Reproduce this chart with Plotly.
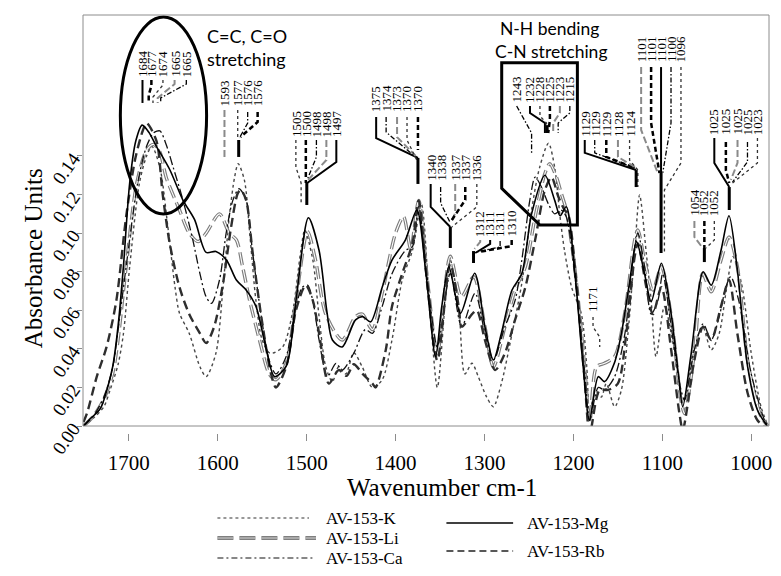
import plotly.graph_objects as go

# ---------------- data ----------------
series_names = ["AV-153-K", "AV-153-Li", "AV-153-Ca", "AV-153-Mg", "AV-153-Rb"]

k_wn = [1751, 1740, 1728, 1721, 1712, 1706, 1699, 1688, 1680, 1674, 1665, 1656, 1648, 1643, 1632, 1620, 1613, 1602,
        1594, 1587, 1581, 1577, 1570, 1564, 1557, 1550, 1541, 1527, 1516, 1506.5, 1502, 1493, 1486, 1478.5, 1471,
        1464, 1456, 1447, 1437.5, 1426, 1415, 1404, 1392.5, 1381, 1371, 1362, 1353, 1344, 1338.5, 1329, 1322, 1314,
        1307, 1297.5, 1290, 1281, 1269, 1258, 1247, 1238, 1228, 1221, 1215, 1210, 1202, 1191, 1185, 1181.6, 1176,
        1168.6, 1163, 1153.6, 1146, 1138.6, 1131, 1125.5, 1118, 1112.5, 1107, 1097.6, 1086, 1077, 1064, 1054.6,
        1045, 1036, 1028, 1020.6, 1011, 1000, 989, 981]
k_ab = [0.000, 0.004, 0.010, 0.0187, 0.032, 0.048, 0.0826, 0.126, 0.140, 0.145, 0.134, 0.103, 0.072, 0.0585, 0.048,
        0.0307, 0.0256, 0.0378, 0.072, 0.1085, 0.129, 0.136, 0.1275, 0.100, 0.065, 0.0446, 0.0377, 0.041, 0.0585,
        0.091, 0.1016, 0.086, 0.0567, 0.0307, 0.023, 0.0307, 0.027, 0.038, 0.0307, 0.020, 0.024, 0.0446, 0.0757,
        0.091, 0.115, 0.065, 0.020, 0.065, 0.086, 0.062, 0.027, 0.0325, 0.0256, 0.015, 0.010, 0.022, 0.048, 0.074,
        0.112, 0.134, 0.1466, 0.134, 0.1085, 0.091, 0.072, 0.058, 0.031, 0.003, 0.0187, 0.015, 0.022, 0.010, 0.0187,
        0.048, 0.091, 0.1198, 0.0896, 0.065, 0.036, 0.062, 0.0377, 0.012, 0.041, 0.0515, 0.0394, 0.048, 0.0705,
        0.0878, 0.074, 0.0377, 0.010, 0.000]

li_wn = [1751, 1740, 1728, 1718, 1712, 1703, 1691, 1680, 1672, 1665, 1658, 1643, 1632, 1622, 1613, 1598, 1587, 1579,
         1572, 1564, 1553, 1542, 1534.5, 1523, 1512, 1499, 1490, 1478.5, 1460, 1445, 1437.5, 1426, 1415, 1400, 1391,
         1383, 1374, 1364, 1353, 1338.5, 1326, 1312, 1299.5, 1290, 1277, 1265.6, 1254, 1243, 1232, 1226.6, 1219,
         1213.6, 1208, 1198.6, 1187.3, 1181.6, 1174, 1165, 1153.6, 1142.4, 1131, 1127.5, 1120, 1110.6, 1101, 1090,
         1079, 1075, 1064, 1054.6, 1045, 1034, 1025, 1015.6, 1004, 989, 981]
li_ab = [0.000, 0.005, 0.014, 0.0275, 0.045, 0.0826, 0.126, 0.143, 0.146, 0.142, 0.129, 0.112, 0.100, 0.0956, 0.100,
         0.110, 0.100, 0.0965, 0.0826, 0.065, 0.0446, 0.027, 0.024, 0.0325, 0.065, 0.1008, 0.086, 0.058, 0.0446,
         0.0567, 0.058, 0.050, 0.069, 0.100, 0.1085, 0.092, 0.117, 0.075, 0.0377, 0.088, 0.067, 0.0774, 0.0515,
         0.0307, 0.0515, 0.0705, 0.0826, 0.1085, 0.131, 0.136, 0.129, 0.1206, 0.112, 0.0826, 0.0307, 0.002, 0.0307,
         0.0325, 0.036, 0.058, 0.0965, 0.1016, 0.086, 0.0705, 0.0826, 0.0567, 0.0135, 0.0065, 0.0377, 0.079, 0.0696,
         0.086, 0.098, 0.0826, 0.034, 0.005, 0.000]

ca_wn = [1751, 1740, 1728, 1718, 1712, 1703, 1690, 1680, 1672, 1665, 1658, 1650, 1639, 1628, 1620, 1613, 1607, 1598,
         1590.5, 1583, 1576, 1568, 1561, 1551, 1542, 1534.5, 1523, 1512, 1504.7, 1499, 1493, 1486, 1476.6, 1467,
         1460, 1447, 1434, 1426, 1415, 1404, 1389, 1381, 1374, 1364, 1353, 1338.5, 1325.6, 1310.6, 1299.5, 1290,
         1277, 1265.6, 1258, 1249, 1243, 1236, 1228, 1221, 1214, 1208, 1198.6, 1187, 1181.6, 1172, 1165, 1153.6,
         1142, 1133, 1127.5, 1120, 1112.5, 1105, 1099.5, 1090, 1079, 1075, 1064, 1054, 1045, 1036, 1028.5, 1023,
         1014, 1000, 985, 981]
ca_ab = [0.000, 0.005, 0.015, 0.0307, 0.050, 0.0826, 0.126, 0.145, 0.152, 0.153, 0.146, 0.134, 0.117, 0.0965, 0.079,
         0.067, 0.0636, 0.0757, 0.100, 0.117, 0.123, 0.117, 0.091, 0.0567, 0.034, 0.027, 0.036, 0.062, 0.072, 0.073,
         0.065, 0.0446, 0.0256, 0.0325, 0.029, 0.0377, 0.050, 0.048, 0.062, 0.079, 0.091, 0.093, 0.1137, 0.075,
         0.041, 0.079, 0.0515, 0.0688, 0.048, 0.0342, 0.0515, 0.065, 0.086, 0.117, 0.129, 0.124, 0.115, 0.110, 0.112,
         0.1085, 0.079, 0.027, 0.003, 0.020, 0.0187, 0.0256, 0.048, 0.086, 0.100, 0.0826, 0.058, 0.065, 0.079, 0.0515,
         0.0187, 0.0135, 0.0394, 0.053, 0.0446, 0.0567, 0.072, 0.0774, 0.065, 0.027, 0.003, 0.000]

mg_wn = [1751, 1745, 1732, 1725, 1718, 1712, 1706, 1699, 1692, 1685, 1677, 1669, 1654, 1639, 1626, 1613, 1602, 1590,
         1579, 1568, 1557, 1546, 1536, 1523, 1512, 1498, 1486, 1477, 1471, 1460, 1445, 1437, 1428, 1415, 1404, 1389,
         1376, 1366, 1355, 1348, 1340, 1327, 1311, 1299.5, 1290, 1281, 1269, 1258, 1247, 1232, 1221, 1215, 1208, 1199,
         1189, 1182, 1172, 1165, 1154, 1146, 1137, 1129, 1120, 1112.5, 1101, 1090, 1082, 1077, 1067.5, 1054, 1045,
         1034, 1025, 1016, 1004, 993, 982]
mg_ab = [0.000, 0.003, 0.009, 0.018, 0.031, 0.052, 0.083, 0.126, 0.148, 0.156, 0.152, 0.145, 0.133, 0.117, 0.107,
         0.090, 0.0905, 0.086, 0.0757, 0.0705, 0.062, 0.041, 0.0256, 0.031, 0.065, 0.108, 0.091, 0.0586, 0.0446,
         0.041, 0.055, 0.0567, 0.054, 0.072, 0.086, 0.0964, 0.112, 0.080, 0.036, 0.062, 0.0826, 0.0584, 0.0792,
         0.0515, 0.0342, 0.048, 0.0705, 0.079, 0.110, 0.130, 0.117, 0.109, 0.1137, 0.0826, 0.0307, 0.003, 0.0256,
         0.023, 0.0325, 0.048, 0.074, 0.0956, 0.079, 0.0645, 0.0844, 0.058, 0.027, 0.010, 0.0377, 0.080, 0.073, 0.091,
         0.109, 0.0826, 0.0307, 0.0083, 0.000]

rb_wn = [1751, 1747, 1736, 1725, 1714, 1703, 1693, 1684, 1680, 1669, 1662, 1654, 1643, 1632, 1620, 1613, 1604, 1594,
         1585, 1577.5, 1574, 1568, 1561, 1551, 1540, 1534.5, 1523, 1512, 1501, 1493, 1486, 1475, 1464, 1455, 1447,
         1437, 1426, 1422.5, 1411, 1404, 1392.5, 1381, 1374, 1364, 1353, 1338.5, 1329, 1325.6, 1314, 1308.6, 1299.5,
         1288, 1277, 1265.6, 1254, 1243, 1232, 1224.6, 1217, 1210, 1206, 1196.5, 1187, 1181.6, 1170.5, 1161, 1150,
         1140.5, 1131, 1127.5, 1118, 1110.6, 1101, 1090, 1080.7, 1077, 1064, 1054, 1045, 1034, 1025, 1015.6, 1004,
         993, 981]
rb_ab = [0.002, 0.0066, 0.0256, 0.041, 0.065, 0.1085, 0.138, 0.1535, 0.157, 0.148, 0.1206, 0.0947, 0.072, 0.058,
         0.048, 0.043, 0.0515, 0.074, 0.103, 0.1206, 0.1224, 0.117, 0.091, 0.0567, 0.027, 0.020, 0.0307, 0.060, 0.073,
         0.065, 0.048, 0.022, 0.029, 0.026, 0.032, 0.027, 0.022, 0.020, 0.0394, 0.062, 0.079, 0.0947, 0.117, 0.072,
         0.034, 0.084, 0.062, 0.0515, 0.058, 0.060, 0.0446, 0.029, 0.0377, 0.055, 0.072, 0.0965, 0.1224, 0.129, 0.119,
         0.112, 0.110, 0.074, 0.022, -0.004, 0.0187, 0.0187, 0.022, 0.048, 0.088, 0.0947, 0.072, 0.058, 0.072, 0.0394,
         0.0064, -0.002, 0.034, 0.0515, 0.0446, 0.062, 0.0757, 0.048, 0.017, 0.003, -0.002]

x_ticks = [1700, 1600, 1500, 1400, 1300, 1200, 1100, 1000]
y_ticks = [0.00, 0.02, 0.04, 0.06, 0.08, 0.10, 0.12, 0.14]

# ---------------- styles ----------------
SERIF = "Liberation Serif, Times New Roman, serif"
SANS = "Lato, Open Sans, sans-serif"

LINE = {
    "K": dict(color="#474747", width=1.4, dash="dot"),
    "Ca": dict(color="#111111", width=1.3, dash="9px,3px,2px,3px"),
    "Mg": dict(color="#000000", width=1.6),
    "Rb": dict(color="#2e2e2e", width=2.4, dash="9px,5px"),
}
LI_OUT = dict(color="#7c7c7c", width=3.4, dash="13px,5px")
LI_IN = dict(color="#ffffff", width=1.1, dash="13px,5px")

CONN = {
    "K": dict(color="#333333", width=1.3, dash="dot"),
    "Li": dict(color="#8a8a8a", width=2.0, dash="7px,3px"),
    "Ca": dict(color="#000000", width=1.3, dash="5px,2px,1.5px,2px"),
    "Mg": dict(color="#000000", width=2.0),
    "Rb": dict(color="#000000", width=2.5, dash="5px,3px"),
}

fig = go.Figure()
spl = dict(shape="spline", smoothing=0.8)

fig.add_trace(go.Scatter(x=k_wn, y=k_ab, mode="lines", name=series_names[0], line={**LINE["K"], **spl},
                         showlegend=False, hoverinfo="skip"))
fig.add_trace(go.Scatter(x=li_wn, y=li_ab, mode="lines", name=series_names[1], line={**LI_OUT, **spl},
                         showlegend=False, hoverinfo="skip"))
fig.add_trace(go.Scatter(x=li_wn, y=li_ab, mode="lines", name=series_names[1], line={**LI_IN, **spl},
                         showlegend=False, hoverinfo="skip"))
fig.add_trace(go.Scatter(x=ca_wn, y=ca_ab, mode="lines", name=series_names[2], line={**LINE["Ca"], **spl},
                         showlegend=False, hoverinfo="skip"))
fig.add_trace(go.Scatter(x=rb_wn, y=rb_ab, mode="lines", name=series_names[4], line={**LINE["Rb"], **spl},
                         showlegend=False, hoverinfo="skip"))
fig.add_trace(go.Scatter(x=mg_wn, y=mg_ab, mode="lines", name=series_names[3], line={**LINE["Mg"], **spl},
                         showlegend=False, hoverinfo="skip"))

# ---------------- peak call-outs (wavenumber / absorbance coordinates) ----------------
GROUPS = [
    dict(base=0.1804, stem=None, items=[
        ("Mg", "1684", 1684.6, [(1684.6, 0.1794), (1684.6, 0.1675)]),
        ("Rb", "1677", 1674.6, [(1674.6, 0.1794), (1674.6, 0.1763), (1677.6, 0.1716), (1677.6, 0.1675)]),
        ("K", "1674", 1661.6, [(1661.6, 0.1794), (1661.6, 0.1768), (1672.8, 0.1706), (1672.8, 0.1675)]),
        ("Li", "1665", 1648.5, [(1648.5, 0.1794), (1648.5, 0.1773), (1667.5, 0.1701), (1667.5, 0.1675)]),
        ("Ca", "1665", 1635.3, [(1635.3, 0.1794), (1635.3, 0.1773), (1664.1, 0.1701), (1664.1, 0.1675)]),
    ]),
    dict(base=0.1654, stem=(1576.4, 0.1483, 0.1395), items=[
        ("Li", "1593", 1592.4, [(1592.4, 0.1638), (1592.4, 0.1395)]),
        ("K", "1577", 1577.5, [(1577.5, 0.1638), (1577.5, 0.1483)]),
        ("Ca", "1576", 1566.3, [(1566.3, 0.1628), (1566.3, 0.1571), (1575.6, 0.1493)]),
        ("Rb", "1576", 1555.1, [(1555.1, 0.1628), (1555.1, 0.1576), (1574.5, 0.1498)]),
    ]),
    dict(base=0.1493, stem=(1499.8, 0.1260, 0.1146), items=[
        ("K", "1505", 1512.1, [(1512.1, 0.1483), (1512.1, 0.1343), (1506.2, 0.1260), (1506.2, 0.1146)]),
        ("Rb", "1500", 1500.9, [(1500.9, 0.1483), (1500.9, 0.1260)]),
        ("Ca", "1498", 1489.0, [(1489.0, 0.1483), (1489.0, 0.1395), (1499.4, 0.1276)]),
        ("Li", "1498", 1477.8, [(1477.8, 0.1483), (1477.8, 0.1379), (1498.3, 0.1276)]),
        ("Mg", "1497", 1466.6, [(1466.6, 0.1483), (1466.6, 0.1369), (1499.4, 0.1260)]),
    ]),
    dict(base=0.1623, stem=(1374.8, 0.1390, 0.1255), items=[
        ("Mg", "1375", 1421.8, [(1421.8, 0.1602), (1421.8, 0.1493), (1374.8, 0.1390)]),
        ("Ca", "1374", 1410.6, [(1410.6, 0.1602), (1410.6, 0.1524), (1376.2, 0.1390)]),
        ("Li", "1373", 1398.3, [(1398.3, 0.1602), (1398.3, 0.1498), (1377.3, 0.1400)]),
        ("K", "1370", 1387.1, [(1387.1, 0.1602), (1387.1, 0.1483), (1376.2, 0.1379)]),
        ("Rb", "1370", 1374.8, [(1374.8, 0.1602), (1374.8, 0.1431)]),
    ]),
    dict(base=0.1265, stem=(1338.4, 0.1032, 0.0923), items=[
        ("Mg", "1340", 1360.5, [(1360.5, 0.1255), (1360.5, 0.1136), (1338.4, 0.1032)]),
        ("Ca", "1338", 1349.3, [(1349.3, 0.1239), (1349.3, 0.1156), (1338.4, 0.1053)]),
        ("Li", "1337", 1332.9, [(1332.9, 0.1255), (1332.9, 0.1104), (1337.8, 0.1053)]),
        ("Rb", "1337", 1321.6, [(1321.6, 0.1239), (1321.6, 0.1172), (1336.7, 0.1068)]),
        ("K", "1336", 1308.6, [(1308.6, 0.1255), (1308.6, 0.1136), (1336.7, 0.1032)]),
    ]),
    dict(base=0.0975, stem=(1312.3, 0.0907, 0.0845), items=[
        ("Li", "1312", 1304.8, [(1304.8, 0.0964), (1304.8, 0.0954), (1311.2, 0.0918)]),
        ("Mg", "1311", 1293.6, [(1293.6, 0.0964), (1293.6, 0.0944), (1310.4, 0.0897)]),
        ("Ca", "1311", 1282.4, [(1282.4, 0.0959), (1282.4, 0.0928), (1309.0, 0.0902)]),
        ("Rb", "1310", 1269.4, [(1269.4, 0.0964), (1269.4, 0.0933), (1306.8, 0.0902)]),
    ]),
    dict(base=0.1670, stem=(1229.5, 0.1560, 0.1519), items=[
        ("Ca", "1243", 1263.8, [(1263.8, 0.1659), (1247.0, 0.1519), (1247.0, 0.1416)]),
        ("Mg", "1232", 1248.8, [(1248.8, 0.1659), (1248.8, 0.1623), (1232.0, 0.1571), (1232.0, 0.1519)]),
        ("K", "1228", 1237.6, [(1237.6, 0.1659), (1237.6, 0.1607), (1230.2, 0.1571), (1230.2, 0.1519)]),
        ("Rb", "1225", 1226.4, [(1226.4, 0.1659), (1226.4, 0.1587), (1228.3, 0.1519)]),
        ("Li", "1223", 1215.2, [(1215.2, 0.1659), (1215.2, 0.1623), (1222.7, 0.1571), (1222.7, 0.1519)]),
        ("Ca", "1215", 1204.0, [(1204.0, 0.1659), (1204.0, 0.1623), (1217.1, 0.1571), (1217.1, 0.1519)]),
    ]),
    dict(base=0.1493, stem=(1129.4, 0.1327, 0.1239), items=[
        ("Mg", "1129", 1187.2, [(1187.2, 0.1483), (1187.2, 0.1416), (1129.4, 0.1327)]),
        ("Ca", "1129", 1176.0, [(1176.0, 0.1483), (1176.0, 0.1416), (1130.8, 0.1338)]),
        ("Rb", "1129", 1163.0, [(1163.0, 0.1483), (1163.0, 0.1395), (1130.8, 0.1338)]),
        ("Li", "1128", 1149.9, [(1149.9, 0.1483), (1149.9, 0.1395), (1130.8, 0.1343)]),
        ("K", "1124", 1136.8, [(1136.8, 0.1483), (1136.8, 0.1379), (1127.5, 0.1327), (1127.5, 0.1239)]),
    ]),
    dict(base=0.1882, stem=(1101.4, 0.1312, 0.0897), items=[
        ("Li", "1101", 1123.8, [(1123.8, 0.1861), (1123.8, 0.1535), (1105.1, 0.1312)]),
        ("Rb", "1101", 1112.6, [(1112.6, 0.1861), (1112.6, 0.1571), (1103.2, 0.1312)]),
        ("Mg", "1101", 1101.4, [(1101.4, 0.1861), (1101.4, 0.0897)]),
        ("Ca", "1100", 1090.2, [(1090.2, 0.1861), (1090.2, 0.1571), (1099.5, 0.1312)]),
        ("K", "1096", 1079.0, [(1079.0, 0.1861), (1079.0, 0.1364), (1097.6, 0.1224), (1097.6, 0.0897)]),
    ]),
    dict(base=0.1084, stem=(1052.7, 0.0923, 0.0850), items=[
        ("Li", "1054", 1063.9, [(1063.9, 0.1063), (1063.9, 0.0980), (1054.6, 0.0923)]),
        ("Rb", "1052", 1052.7, [(1052.7, 0.1063), (1052.7, 0.0923)]),
        ("K", "1052", 1041.5, [(1041.5, 0.1063), (1041.5, 0.0964), (1050.9, 0.0923)]),
    ]),
    dict(base=0.1504, stem=(1024.7, 0.1239, 0.1120), items=[
        ("Mg", "1025", 1041.5, [(1041.5, 0.1493), (1041.5, 0.1364), (1024.7, 0.1239)]),
        ("Rb", "1025", 1028.5, [(1028.5, 0.1473), (1028.5, 0.1327), (1024.7, 0.1260)]),
        ("Li", "1025", 1015.4, [(1015.4, 0.1483), (1015.4, 0.1364), (1022.9, 0.1276)]),
        ("Ca", "1025", 1004.2, [(1004.2, 0.1473), (1004.2, 0.1369), (1021.0, 0.1265)]),
        ("K", "1023", 993.0, [(993.0, 0.1493), (993.0, 0.1364), (1021.0, 0.1260)]),
    ]),
    dict(base=0.0586, stem=None, items=[
        ("K", "1171", 1177.9, [(1177.9, 0.0565), (1177.9, 0.0513), (1170.4, 0.0461), (1170.4, 0.0410)]),
    ]),
]

annotations = []
for g in GROUPS:
    for ser, txt, lx, path in g["items"]:
        fig.add_trace(go.Scatter(x=[p[0] for p in path], y=[p[1] for p in path], mode="lines",
                                 line=CONN[ser], showlegend=False, hoverinfo="skip"))
        annotations.append(dict(x=lx, y=g["base"], xref="x", yref="y", text=txt, showarrow=False,
                                textangle=-90, xanchor="center", yanchor="bottom", borderpad=0,
                                font=dict(family=SERIF, size=13, color="black")))
    if g["stem"]:
        sx, s0, s1 = g["stem"]
        fig.add_trace(go.Scatter(x=[sx, sx], y=[s0, s1], mode="lines",
                                 line=dict(color="black", width=3), showlegend=False, hoverinfo="skip"))

# ---------------- region markers ----------------
shapes = [
    dict(type="circle", xref="x", yref="y", x0=1709.5, x1=1612.5, y0=0.1099, y1=0.2120,
         line=dict(color="black", width=3)),
    dict(type="path", xref="x", yref="y",
         path="M 1280.6,0.1884 L 1195.5,0.1884 L 1195.5,0.1042 L 1237.6,0.1042 L 1280.6,0.1232 Z",
         line=dict(color="black", width=3)),
    dict(type="rect", xref="x domain", yref="y domain", x0=0, x1=1, y0=0, y1=1,
         line=dict(color="#8c8c8c", width=1)),
]

annotations += [
    dict(x=1614, y=0.2023, xref="x", yref="y", text="C=C, C=O", showarrow=False, xanchor="left",
         yanchor="middle", font=dict(family=SANS, size=18, color="black")),
    dict(x=1614, y=0.1902, xref="x", yref="y", text="stretching", showarrow=False, xanchor="left",
         yanchor="middle", font=dict(family=SANS, size=18, color="black")),
    dict(x=1284.5, y=0.2059, xref="x", yref="y", text="N-H bending", showarrow=False, xanchor="left",
         yanchor="middle", font=dict(family=SANS, size=17.5, color="black")),
    dict(x=1290, y=0.1940, xref="x", yref="y", text="C-N stretching", showarrow=False, xanchor="left",
         yanchor="middle", font=dict(family=SANS, size=17.5, color="black")),
]

# ---------------- canvas geometry ----------------
W, H = 781, 576
ML, MR, MT, MB = 83, 9, 15, 143
PW, PH = W - ML - MR, H - MT - MB
GAP = 7


def px(xp):
    return (xp - ML) / PW


def py(yp):
    return (H - MB - yp) / PH


# axis titles
annotations += [
    dict(x=px(444), y=py(487), xref="paper", yref="paper", text="Wavenumber cm-1", showarrow=False,
         xanchor="center", yanchor="middle", font=dict(family=SERIF, size=25, color="black")),
    dict(x=px(33), y=py(258), xref="paper", yref="paper", text="Absorbance Units", showarrow=False,
         textangle=-90, xanchor="center", yanchor="middle", font=dict(family=SERIF, size=25, color="black")),
]

# legend (drawn by hand to keep the long line samples)
legend_items = [
    ("K", series_names[0], 218, 310, 325, 518),
    ("Li", series_names[1], 218, 317, 325, 538),
    ("Ca", series_names[2], 218, 314, 325, 558),
    ("Mg", series_names[3], 448, 515, 527, 523),
    ("Rb", series_names[4], 448, 515, 527, 551),
]
for key, name, x0, x1, tx, yy in legend_items:
    if key == "Li":
        shapes.append(dict(type="line", xref="paper", yref="paper", x0=px(x0), x1=px(x1), y0=py(yy), y1=py(yy),
                           line=dict(color="#555555", width=3.4, dash="16px,6px")))
        shapes.append(dict(type="line", xref="paper", yref="paper", x0=px(x0), x1=px(x1), y0=py(yy), y1=py(yy),
                           line=dict(color="white", width=1.0, dash="16px,6px")))
    else:
        st = dict(LINE[key])
        if key == "Rb":
            st = dict(color="#222222", width=1.6, dash="7px,4px")
        if key == "Ca":
            st = dict(color="#111111", width=1.2, dash="6px,3px,2px,3px")
        if key == "K":
            st = dict(color="#333333", width=1.2, dash="dot")
        shapes.append(dict(type="line", xref="paper", yref="paper", x0=px(x0), x1=px(x1), y0=py(yy), y1=py(yy),
                           line=st))
    annotations.append(dict(x=px(tx), y=py(yy), xref="paper", yref="paper", text=name, showarrow=False,
                            xanchor="left", yanchor="middle", font=dict(family=SERIF, size=17, color="black")))

fig.update_layout(
    width=W, height=H,
    margin=dict(l=ML, r=MR, t=MT, b=MB, pad=0),
    paper_bgcolor="white", plot_bgcolor="white",
    showlegend=False,
    shapes=shapes,
    annotations=annotations,
    xaxis=dict(range=[1751.5, 980], anchor="free", position=0, showgrid=False, zeroline=False,
               showline=False, ticks="outside", ticklen=7, tickcolor="#8c8c8c", tickwidth=1,
               tickvals=x_ticks, ticktext=[str(v) for v in x_ticks], ticklabelstandoff=4,
               tickfont=dict(family=SERIF, size=21, color="black")),
    yaxis=dict(range=[0, 0.2131], domain=[GAP / PH, 1], showgrid=False, zeroline=False, showline=False,
               ticks="outside", ticklen=5, tickcolor="#8c8c8c", tickwidth=1,
               tickvals=y_ticks, ticktext=["%.2f" % v for v in y_ticks], tickangle=-55,
               tickfont=dict(family=SERIF, size=19, color="black")),
)

fig.write_html("out.html")
